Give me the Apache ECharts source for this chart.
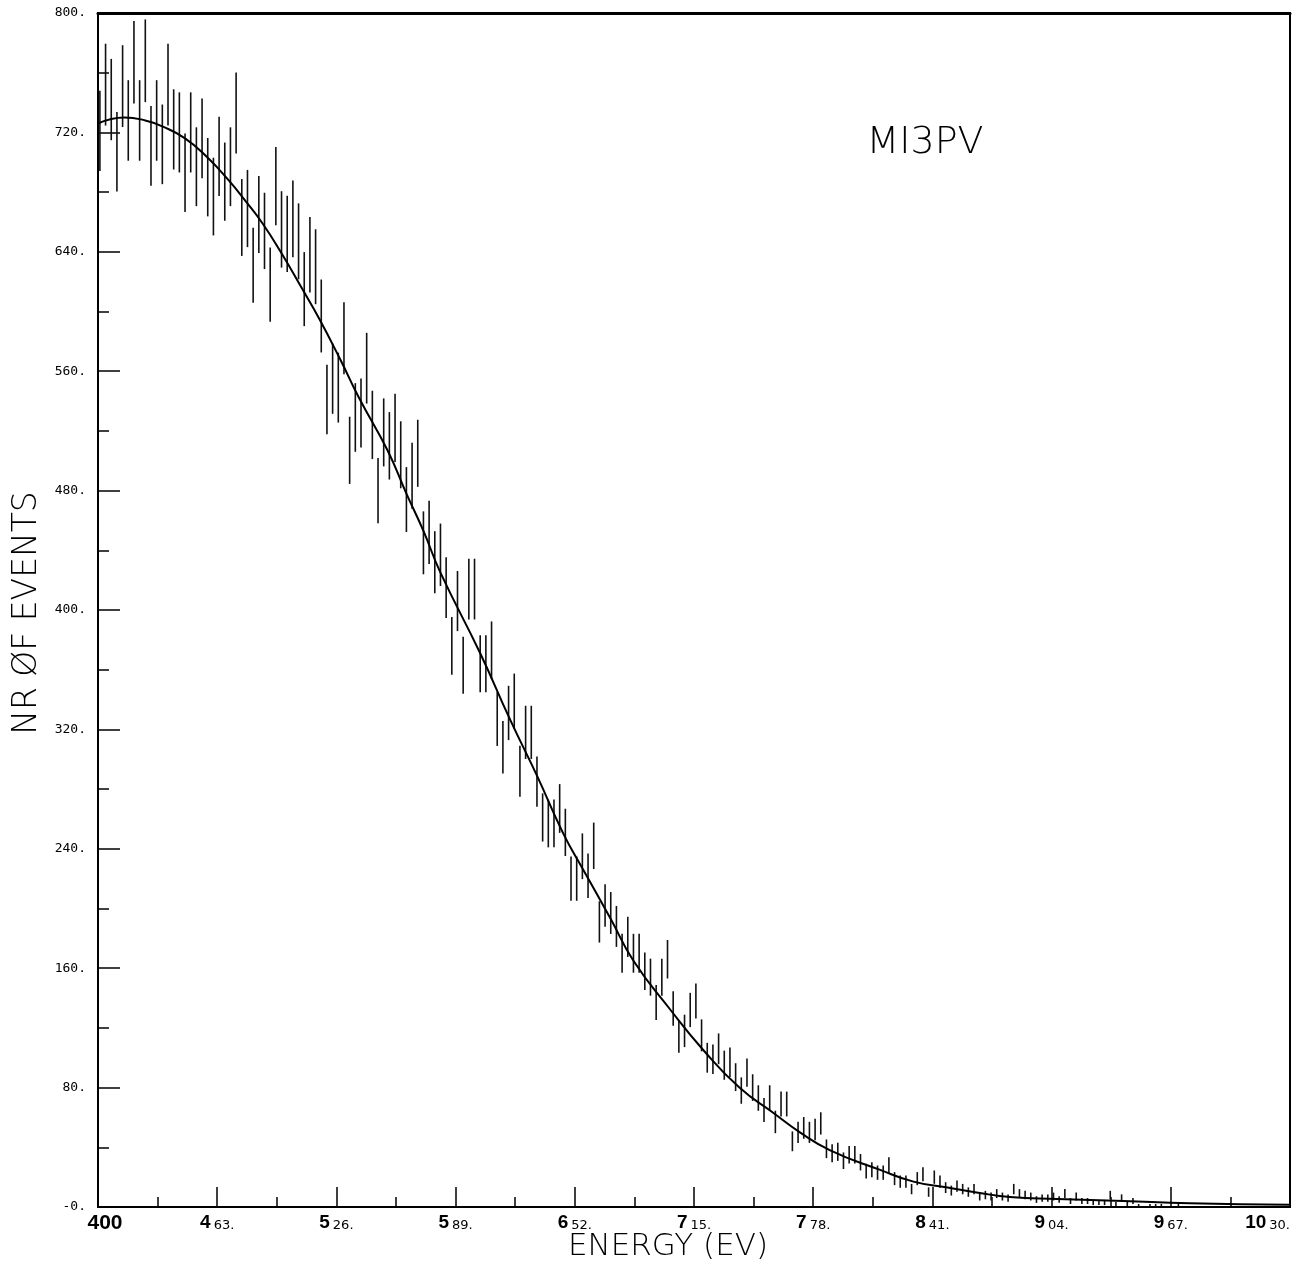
<!DOCTYPE html>
<html>
<head>
<meta charset="utf-8">
<title>MI3PV energy spectrum</title>
<script src="https://cdn.jsdelivr.net/npm/echarts@6/dist/echarts.min.js"></script>
<style>
  html, body { margin: 0; padding: 0; background: #ffffff; }
  #chart { width: 1304px; height: 1269px; }
</style>
</head>
<body>
<div id="chart"></div>
<script>
// Energy axis (eV): ticks every 63 eV from 400 to 1030
const energyMin = 400;
const energyMax = 1030;
const energyStep = 63;
// Event-count axis
const countMin = 0;
const countMax = 800;
const countStep = 80;

// Histogram bins: 3 eV wide, first centre at 401 eV
const binStart = 401;
const binWidth = 3;

// Events per bin (error bars are the Poisson ±√N)
const counts = [
  721, 752, 742, 707, 751, 728, 767, 728, 768, 711,
  728, 712, 752, 722, 720, 693, 720, 697, 716, 690,
  677, 704, 687, 697, 733, 663, 669, 631, 665, 654,
  618, 684, 655, 652, 662, 647, 615, 638, 630, 597,
  541, 555, 549, 582, 507, 529, 532, 562, 524, 480,
  519, 510, 522, 504, 474, 490, 505, 445, 452, 432,
  437, 415, 376, 406, 363, 414, 414, 364, 364, 373,
  327, 308, 331, 339, 292, 318, 318, 285, 261, 257,
  257, 267, 251, 220, 220, 235, 222, 242, 191, 202,
  197, 188, 170, 181, 170, 170, 158, 154, 137, 154,
  166, 133, 114, 118, 132, 138, 115, 100, 99, 106,
  95, 97, 87, 78, 90, 80, 73, 65, 73, 57,
  69, 69, 44, 50, 53, 50, 52, 56, 39, 36,
  37, 31, 35, 35, 30, 24, 25, 23, 23, 28,
  19, 17, 17, 12, 19, 22, 10, 20, 17, 13,
  11, 14, 12, 10, 12, 7, 8, 7, 9, 7,
  6, 12, 9, 8, 7, 5, 6, 6, 7, 5,
  9, 4, 7, 4, 4, 3, 3, 3, 8, 2,
  6, 2, 4, 1, 0, 1, 1, 1, 0, 0,
  1, 0, 0, 0, 0, 0, 0, 0, 0, 0,
  0, 0, 0, 0, 0, 0, 0, 0, 0, 0
];

// Fitted spectrum shape
const fitEnergy = [
  400, 407, 414, 425, 434, 446, 458, 469, 478, 487,
  497, 508, 517, 528, 538, 553, 563, 572, 581, 602,
  618, 632, 646, 656, 671, 683, 702, 720, 739, 757,
  771, 787, 813, 831, 849, 866, 882, 907, 942, 977, 1030
];
const fitCounts = [
  726, 729, 730, 728, 724, 716, 703, 688, 674, 659,
  639, 615, 595, 568, 542, 507, 478, 453, 425, 371,
  326, 289, 250, 227, 193, 165, 133, 105, 80, 63,
  50, 38, 25, 17, 13, 9.4, 6.7, 5.4, 4, 2.5, 1.5
];

const plotTitle = 'MI3PV';
const xTitle = 'ENERGY (EV)';
const yTitle = 'NR ØF EVENTS';

// The energy axis is laid out as an offset from energyMin so that the
// tick grid starts exactly at 400.
const errorBars = [];
counts.forEach(function (n, i) {
  if (n <= 0) return;
  const e = binStart + i * binWidth - energyMin;
  const s = Math.sqrt(n);
  errorBars.push([e, Math.max(0, n - s), n + s]);
});
const fitLine = fitEnergy.map(function (e, i) { return [e - energyMin, fitCounts[i]]; });

function energyLabel(v) {
  const e = Math.round(v + energyMin);
  if (e === energyMin) return '{first|' + e + '}';
  const head = Math.floor(e / 100);
  const tail = String(e % 100).padStart(2, '0');
  return '{big|' + head + '}{small|' + tail + '.}';
}

const chart = echarts.init(document.getElementById('chart'), null, { renderer: 'canvas' });

chart.setOption({
  backgroundColor: '#ffffff',
  animation: false,
  grid: {
    left: 98, right: 14, top: 13, bottom: 62,
    outerBoundsMode: 'none',
    containLabel: false,
    show: true, borderColor: '#000', borderWidth: 2, backgroundColor: 'transparent'
  },
  xAxis: [{
    type: 'value',
    min: 0, max: energyMax - energyMin, interval: energyStep,
    axisLine: { show: true, onZero: false, lineStyle: { color: '#000', width: 2 } },
    axisTick: { show: true, inside: true, length: 20, lineStyle: { color: '#000', width: 1.5 } },
    minorTick: { show: true, splitNumber: 2, length: 10, lineStyle: { color: '#000', width: 1.5 } },
    splitLine: { show: false },
    axisLabel: {
      margin: 6,
      hideOverlap: false,
      alignMaxLabel: 'right',
      formatter: energyLabel,
      rich: {
        first: { fontFamily: 'Liberation Sans', fontWeight: 'bold', fontSize: 21, color: '#000', verticalAlign: 'bottom', lineHeight: 21, padding: [0, 0, 0, 14] },
        big: { fontFamily: 'Liberation Sans', fontWeight: 'bold', fontSize: 19, color: '#000', verticalAlign: 'bottom', lineHeight: 19, padding: [0, 3, 0, 0] },
        small: { fontFamily: 'DejaVu Sans', fontSize: 13, color: '#000', verticalAlign: 'bottom', lineHeight: 14 }
      }
    }
  }, {
    type: 'value', position: 'top',
    min: 0, max: energyMax - energyMin,
    axisLine: { show: true, onZero: false, lineStyle: { color: '#000', width: 3 } },
    axisTick: { show: false }, axisLabel: { show: false }, splitLine: { show: false }
  }],
  yAxis: {
    type: 'value',
    min: countMin, max: countMax, interval: countStep,
    axisLine: { show: true, onZero: false, lineStyle: { color: '#000', width: 2 } },
    axisTick: { show: true, inside: true, length: 22, lineStyle: { color: '#000', width: 1.5 } },
    minorTick: { show: true, splitNumber: 2, length: 11, lineStyle: { color: '#000', width: 1.5 } },
    splitLine: { show: false },
    axisLabel: {
      margin: 12,
      fontFamily: 'DejaVu Sans Mono', fontSize: 13, color: '#000',
      padding: [4, 0, 0, 0],
      formatter: function (v) { return v === 0 ? '-0.' : v + '.'; }
    }
  },
  graphic: [
    {
      type: 'text', x: 668, y: 1247,
      style: { text: xTitle, font: '200 31px "DejaVu Sans"', fill: '#000', textAlign: 'center', textVerticalAlign: 'middle' }
    },
    {
      type: 'text', x: 27, y: 613, rotation: Math.PI / 2,
      style: { text: yTitle, font: '200 33px "DejaVu Sans"', fill: '#000', textAlign: 'center', textVerticalAlign: 'middle' }
    },
    {
      type: 'text', x: 925, y: 143,
      style: { text: plotTitle, font: '200 38px "DejaVu Sans"', fill: '#000', textAlign: 'center', textVerticalAlign: 'middle' }
    }
  ],
  series: [
    {
      type: 'custom',
      name: 'events',
      clip: true,
      data: errorBars,
      encode: { x: 0, y: [1, 2] },
      renderItem: function (params, api) {
        const p1 = api.coord([api.value(0), api.value(1)]);
        const p2 = api.coord([api.value(0), api.value(2)]);
        return {
          type: 'line',
          shape: { x1: p1[0], y1: p1[1], x2: p2[0], y2: p2[1] },
          style: { stroke: '#111', lineWidth: 1.6 }
        };
      }
    },
    {
      type: 'line',
      name: 'fit',
      data: fitLine,
      showSymbol: false,
      smooth: 0.5,
      lineStyle: { color: '#000', width: 2 },
      z: 3
    }
  ]
});
</script>
</body>
</html>
